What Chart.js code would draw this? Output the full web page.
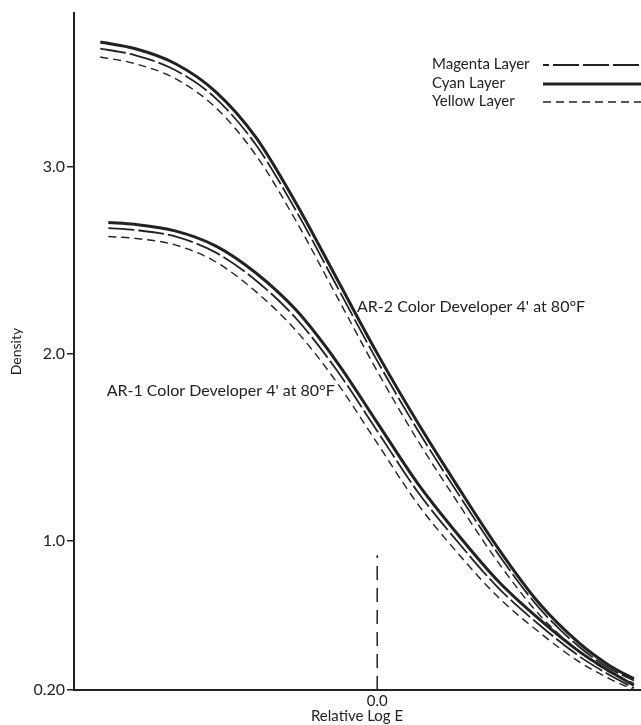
<!DOCTYPE html>
<html>
<head>
<meta charset="utf-8">
<script src="https://cdn.jsdelivr.net/npm/chart.js@4.4.1/dist/chart.umd.min.js"></script>
<style>
  html, body { margin: 0; padding: 0; background: #ffffff; }
  #wrap { width: 641px; height: 725px; position: relative; }
</style>
</head>
<body>
<div id="wrap"><canvas id="c" width="641" height="725"></canvas></div>
<script>
// ---- data ----
const upperX = [-1.37, -1.2, -1.0, -0.8, -0.6, -0.4, -0.2, 0.0, 0.2, 0.4, 0.6, 0.8, 1.0, 1.15, 1.27];
const lowerX = [-1.33, -1.2, -1.0, -0.8, -0.6, -0.4, -0.2, 0.0, 0.2, 0.4, 0.6, 0.8, 1.0, 1.15, 1.27];

const ar2Cyan    = [3.665, 3.63, 3.55, 3.40, 3.155, 2.80, 2.40, 2.00, 1.63, 1.285, 0.955, 0.665, 0.45, 0.33, 0.26];
const ar2Magenta = [3.63, 3.595, 3.515, 3.365, 3.115, 2.76, 2.36, 1.96, 1.59, 1.25, 0.925, 0.64, 0.43, 0.315, 0.25];
const ar2Yellow  = [3.585, 3.55, 3.47, 3.315, 3.06, 2.705, 2.305, 1.905, 1.535, 1.20, 0.88, 0.605, 0.405, 0.295, 0.235];

const ar1Cyan    = [2.70, 2.69, 2.655, 2.575, 2.43, 2.23, 1.955, 1.63, 1.305, 1.03, 0.78, 0.58, 0.405, 0.30, 0.225];
const ar1Magenta = [2.67, 2.66, 2.625, 2.54, 2.39, 2.185, 1.91, 1.585, 1.26, 0.99, 0.745, 0.55, 0.38, 0.28, 0.21];
const ar1Yellow  = [2.625, 2.615, 2.58, 2.49, 2.33, 2.12, 1.845, 1.52, 1.195, 0.93, 0.695, 0.51, 0.35, 0.26, 0.20];

const refLineX = [0.0, 0.0];
const refLineY = [0.2, 0.92];

const yTickValues = [0.2, 1.0, 2.0, 3.0];
const xTickValues = [0.0];

const legendLabels = ['Magenta Layer', 'Cyan Layer', 'Yellow Layer'];
const curveLabels = [
  { text: "AR-2 Color Developer 4' at 80°F", x: -0.10, y: 2.25, align: 'left' },
  { text: "AR-1 Color Developer 4' at 80°F", x: -0.21, y: 1.80, align: 'right' }
];

// ---- helpers ----
const INK = '#222222';
const FONT = 'Lato, "DejaVu Sans", sans-serif';
const pts = (xs, ys) => xs.map((x, i) => ({ x: x, y: ys[i] }));

const styles = {
  cyan:    { borderWidth: 3,   borderDash: [] },
  magenta: { borderWidth: 1.8, borderDash: [26, 4] },
  yellow:  { borderWidth: 1.4, borderDash: [8, 5] }
};

function curve(label, xs, ys, st) {
  return {
    label: label,
    data: pts(xs, ys),
    borderColor: INK,
    borderWidth: styles[st].borderWidth,
    borderDash: styles[st].borderDash,
    pointRadius: 0,
    fill: false,
    cubicInterpolationMode: 'monotone'
  };
}

const datasets = [
  curve('AR-2 Cyan Layer', upperX, ar2Cyan, 'cyan'),
  curve('AR-2 Magenta Layer', upperX, ar2Magenta, 'magenta'),
  curve('AR-2 Yellow Layer', upperX, ar2Yellow, 'yellow'),
  curve('AR-1 Cyan Layer', lowerX, ar1Cyan, 'cyan'),
  curve('AR-1 Magenta Layer', lowerX, ar1Magenta, 'magenta'),
  curve('AR-1 Yellow Layer', lowerX, ar1Yellow, 'yellow'),
  {
    label: 'Relative Log E 0.0',
    data: pts(refLineX, refLineY),
    borderColor: INK,
    borderWidth: 1.5,
    borderDash: [14, 8],
    pointRadius: 0,
    fill: false
  }
];

// legend drawn at the upper right: text then line sample
const layerLegend = {
  id: 'layerLegend',
  afterDraw(chart) {
    const ctx = chart.ctx;
    const rows = [
      { text: legendLabels[0], st: 'magenta', y: 64 },
      { text: legendLabels[1], st: 'cyan', y: 83 },
      { text: legendLabels[2], st: 'yellow', y: 101 }
    ];
    ctx.save();
    ctx.font = '15px ' + FONT;
    ctx.fillStyle = INK;
    ctx.textAlign = 'left';
    ctx.textBaseline = 'middle';
    rows.forEach(r => {
      ctx.fillText(r.text, 432, r.y);
      ctx.beginPath();
      ctx.setLineDash(styles[r.st].borderDash);
      ctx.lineDashOffset = (r.st === 'magenta') ? 20 : 0;
      ctx.lineWidth = styles[r.st].borderWidth;
      ctx.strokeStyle = INK;
      ctx.moveTo(543, r.y + 1);
      ctx.lineTo(641, r.y + 1);
      ctx.stroke();
    });
    ctx.restore();
  }
};

// curve labels placed through the scales
const curveLabelPlugin = {
  id: 'curveLabels',
  afterDraw(chart) {
    const ctx = chart.ctx;
    const xs = chart.scales.x, ys = chart.scales.y;
    ctx.save();
    ctx.font = '16px ' + FONT;
    ctx.fillStyle = INK;
    ctx.textBaseline = 'middle';
    curveLabels.forEach(l => {
      ctx.textAlign = l.align;
      ctx.fillText(l.text, xs.getPixelForValue(l.x), ys.getPixelForValue(l.y));
    });
    ctx.restore();
  }
};

new Chart(document.getElementById('c'), {
  type: 'line',
  data: { datasets: datasets },
  options: {
    responsive: false,
    animation: false,
    layout: { padding: { top: 13, right: 1, left: 0, bottom: 0 } },
    plugins: {
      legend: { display: false },
      tooltip: { enabled: false }
    },
    scales: {
      x: {
        type: 'linear',
        min: -1.5,
        max: 1.3,
        afterBuildTicks: (axis) => { axis.ticks = xTickValues.map(v => ({ value: v })); },
        afterFit: (axis) => { axis.height = 35; },
        grid: { drawOnChartArea: false, drawTicks: false },
        border: { display: true, color: INK, width: 2 },
        ticks: {
          color: INK,
          font: { family: FONT, size: 15 },
          padding: 2,
          maxRotation: 0,
          callback: (v) => Number(v).toFixed(1)
        },
        title: {
          display: true,
          text: 'Relative Log E',
          color: INK,
          font: { family: FONT, size: 15 },
          padding: { top: 0, bottom: 0 }
        }
      },
      y: {
        type: 'linear',
        min: 0.2,
        max: 3.82,
        afterBuildTicks: (axis) => { axis.ticks = yTickValues.map(v => ({ value: v })); },
        afterFit: (axis) => { axis.width = 74; },
        grid: { drawOnChartArea: false, drawTicks: true, tickLength: 7, color: INK, lineWidth: 1.5 },
        border: { display: true, color: INK, width: 2 },
        ticks: {
          color: INK,
          font: { family: FONT, size: 16 },
          padding: 2,
          callback: (v) => (Math.abs(v - 0.2) < 1e-9 ? '0.20' : Number(v).toFixed(1))
        },
        title: {
          display: true,
          text: 'Density',
          color: INK,
          font: { family: FONT, size: 14 },
          padding: { top: 8, bottom: 0 }
        }
      }
    }
  },
  plugins: [layerLegend, curveLabelPlugin]
});
</script>
</body>
</html>
